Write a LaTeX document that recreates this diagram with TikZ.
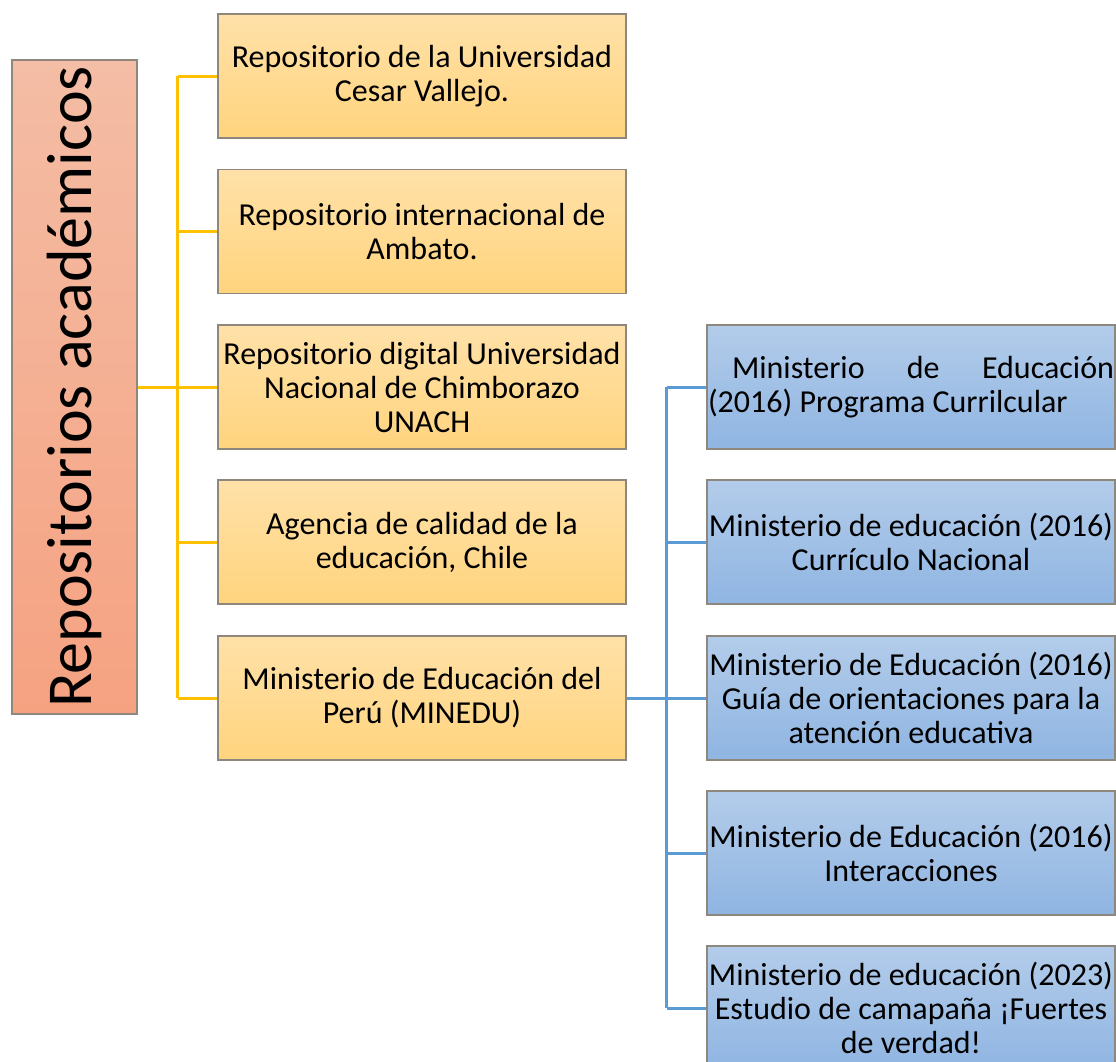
\documentclass[tikz,border=0pt]{standalone}
\usepackage{fontspec}
\setmainfont{Carlito}
\usepackage{tikz}

\definecolor{ytop}{HTML}{FFE1A8}
\definecolor{ybot}{HTML}{FFD47E}
\definecolor{btop}{HTML}{B3CCEA}
\definecolor{bbot}{HTML}{8FB5E2}
\definecolor{rtop}{HTML}{F4BDA5}
\definecolor{rbot}{HTML}{F5A281}
\definecolor{yline}{HTML}{FFC000}
\definecolor{bline}{HTML}{5B9BD5}
\definecolor{edge}{HTML}{8E877E}

\tikzset{
  box/.style={draw=edge, line width=0.6pt, minimum width=204pt, minimum height=62pt,
    inner sep=0pt, text width=203pt, align=flush center, font=\fontsize{16}{17}\selectfont},
  ybox/.style={box, top color=ytop, bottom color=ybot},
  bbox/.style={box, top color=btop, bottom color=bbot},
  rootbox/.style={draw=edge, line width=0.6pt, minimum width=62.5pt, minimum height=327pt,
    inner sep=0pt, top color=rtop, bottom color=rbot},
  yconn/.style={draw=yline, line width=1.5pt},
  bconn/.style={draw=bline, line width=1.5pt}
}

\begin{document}
\begin{tikzpicture}[x=0.5pt, y=-0.5pt]

\useasboundingbox (0,0) rectangle (1116,1062);
\clip (0,0) rectangle (1116,1062);

\node[rootbox] (root) at (74.5,387)
  {\rotatebox{90}{\fontsize{32}{38}\selectfont Repositorios académicos}};

\node[ybox] (y1) at (422,76)    {Repositorio de la Universidad\\Cesar Vallejo.};
\node[ybox] (y2) at (422,231.5) {Repositorio internacional de\\Ambato.};
\node[ybox] (y3) at (422,387)   {Repositorio digital Universidad\\Nacional de Chimborazo\\UNACH};
\node[ybox] (y4) at (422,542)   {Agencia de calidad de la\\educación, Chile};
\node[ybox] (y5) at (422,698)   {Ministerio de Educación del\\Perú (MINEDU)};

\node[bbox] (b1) at (911,387)  {\hspace*{0.75em}Ministerio\hfill de\hfill Educación\\(2016) Programa Currilcular\hfill\null};
\node[bbox] (b2) at (911,542)  {Ministerio de educación (2016)\\Currículo Nacional};
\node[bbox] (b3) at (911,698)  {Ministerio de Educación (2016)\\Guía de orientaciones para la\\atención educativa};
\node[bbox] (b4) at (911,853)  {Ministerio de Educación (2016)\\Interacciones};
\node[bbox] (b5) at (911,1008) {Ministerio de educación (2023)\\Estudio de camapaña ¡Fuertes\\de verdad!};

% yellow tree
\draw[yconn] (root.east) -- ++(40,0) coordinate (ytrunk);
\draw[yconn] (ytrunk |- y1.west) -- (ytrunk |- y5.west);
\foreach \i in {1,...,5}
    \draw[yconn] (ytrunk |- y\i.west) -- (y\i.west);

% blue tree
\draw[bconn] (y5.east) -- ++(40,0) coordinate (btrunk);
\draw[bconn] (btrunk |- b1.west) -- (btrunk |- b5.west);
\foreach \i in {1,...,5}
    \draw[bconn] (btrunk |- b\i.west) -- (b\i.west);

\end{tikzpicture}
\end{document}
